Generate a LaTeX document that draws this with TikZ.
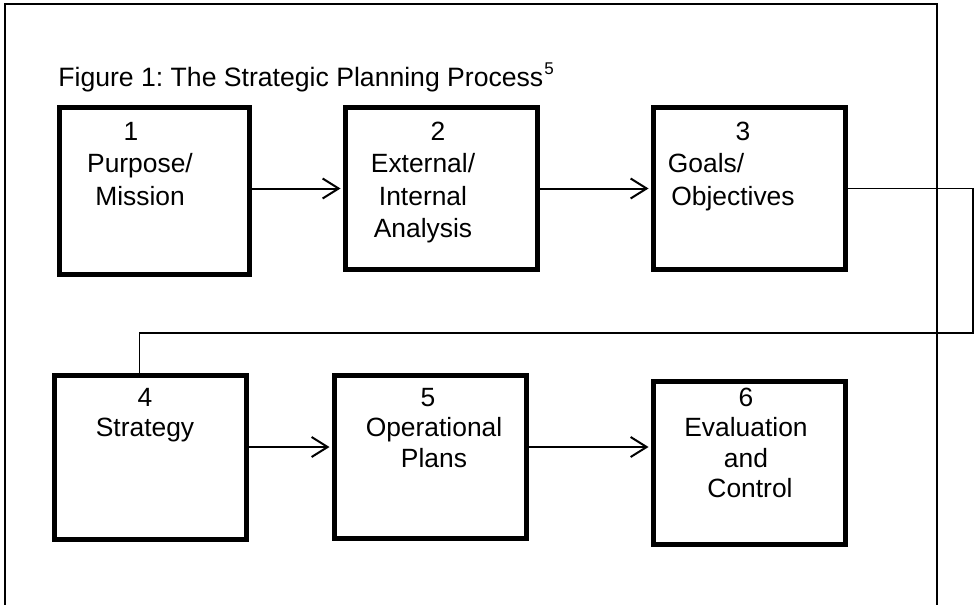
\documentclass[tikz,border=0pt]{standalone}
\usepackage{fontspec}
\setmainfont{Liberation Sans}
\usetikzlibrary{arrows.meta}
\frenchspacing

\tikzset{
  stage/.style={draw, line width=2.5pt, minimum width=96pt, minimum height=81pt, inner sep=0pt},
  stagetext/.style={anchor=north, align=center, inner sep=0pt, font=\fontsize{13.2}{16.25}\selectfont},
  flow/.style={-{Straight Barb[length=8pt,width=10pt]}, line width=1pt, shorten >=1.25pt},
  link/.style={line width=0.6pt},
  frame/.style={line width=1pt}
}

\begin{document}
\begin{tikzpicture}[x=0.5pt, y=-0.5pt]
  \useasboundingbox (0,0) rectangle (977,604);

  % Frame
  \draw[frame] (5,606) -- (5,4) -- (937,4) -- (937,606);

  % Caption
  \node[anchor=base west, inner sep=0pt, font=\fontsize{13.3}{16}\selectfont] (caption) at (58,87)
    {Figure 1: The Strategic Planning Process\kern0.5pt\raisebox{6pt}{\fontsize{8.5}{10}\selectfont 5}};

  % Boxes
  \node[stage, minimum width=95pt, minimum height=83.5pt] (s1) at (154.5,191) {};
  \node[stage] (s2) at (441.5,188.5) {};
  \node[stage] (s3) at (749.5,188.5) {};
  \node[stage, minimum height=82pt] (s4) at (150.5,457.5) {};
  \node[stage, minimum height=81.5pt] (s5) at (430.5,457) {};
  \node[stage, minimum height=81.5pt] (s6) at (749.5,463) {};

  % Labels
  \node[stagetext] (t1) at (140,121.5) {\hspace*{-9pt}1\\Purpose/\\Mission};
  \node[stagetext] (t2) at (423,121.5) {\hspace*{15pt}2\\External/\\Internal\\Analysis};
  \node[stagetext] (t3) at (733,121.5) {\hspace*{10pt}3\\\hspace*{-27pt}Goals/\\Objectives};
  \node[stagetext, font=\fontsize{13.2}{15.25}\selectfont] (t4) at (145,387.5) {4\\Strategy};
  \node[stagetext, font=\fontsize{13.2}{15.25}\selectfont] (t5) at (434,387.5) {\hspace*{-6pt}5\\Operational\\Plans};
  \node[stagetext, font=\fontsize{13.2}{15.25}\selectfont] (t6) at (746,387.5) {6\\Evaluation\\and\\\hspace*{4pt}Control};

  % Arrows
  \draw[flow] (s1.east |- s2) -- (s2.west);
  \draw[flow] (s2.east) -- (s3.west);
  \draw[flow] ([yshift=5pt]s5.west -| s4.east) -- ([yshift=5pt]s5.west);
  \draw[flow] ([yshift=5pt]s5.east) -- ([yshift=5pt]s5.east -| s6.west);

  % Return line
  \coordinate (bend) at (973,333);
  \draw[link] (s3.east) -| (bend) -| ([xshift=-5.6pt]s4.north);
\end{tikzpicture}
\end{document}
